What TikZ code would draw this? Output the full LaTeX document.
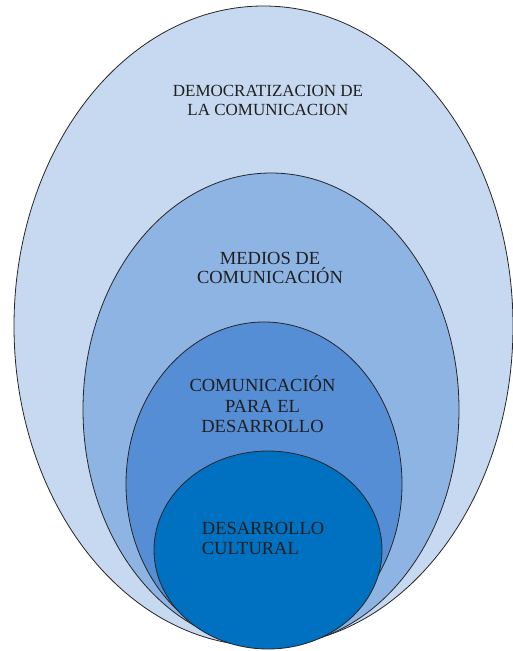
\documentclass[tikz,border=0pt]{standalone}
\usepackage{fontspec}
\setmainfont{Liberation Serif}
\usetikzlibrary{shapes.geometric}
\definecolor{lvA}{RGB}{198,217,241}
\definecolor{lvB}{RGB}{142,180,227}
\definecolor{lvC}{RGB}{85,142,213}
\definecolor{lvD}{RGB}{0,112,192}
\begin{document}
\begin{tikzpicture}[x=1pt,y=1pt,
  ring/.style={ellipse, draw=black!85, line width=0.8pt, inner sep=0pt},
  lbl/.style={inner sep=0pt, text=black!88}]
\useasboundingbox (0,0) rectangle (512,-651);
\node[ring, fill=lvA, minimum width=499pt, minimum height=640pt] (e1) at (263.5,-326) {};
\node[ring, fill=lvB, minimum width=376pt, minimum height=473pt] (e2) at (271,-409.5) {};
\node[ring, fill=lvC, minimum width=276pt, minimum height=324pt] (e3) at (264,-484) {};
\node[ring, fill=lvD, minimum width=228pt, minimum height=198pt] (e4) at (268,-550) {};
\node[lbl, align=center, font=\fontsize{17}{19.5}\selectfont] (t1) at (268,-100.5) {DEMOCRATIZACION DE\\LA COMUNICACION};
\node[lbl, align=center, font=\fontsize{18.5}{18.3}\selectfont] (t2) at (270,-268) {MEDIOS DE\\COMUNICACIÓN};
\node[lbl, align=center, font=\fontsize{18.5}{20.5}\selectfont] (t3) at (262.5,-404.5) {COMUNICACIÓN\\PARA EL\\DESARROLLO};
\node[lbl, align=left, anchor=west, font=\fontsize{18.5}{20}\selectfont] (t4) at (201.7,-538.5) {DESARROLLO\\CULTURAL};
\end{tikzpicture}
\end{document}
